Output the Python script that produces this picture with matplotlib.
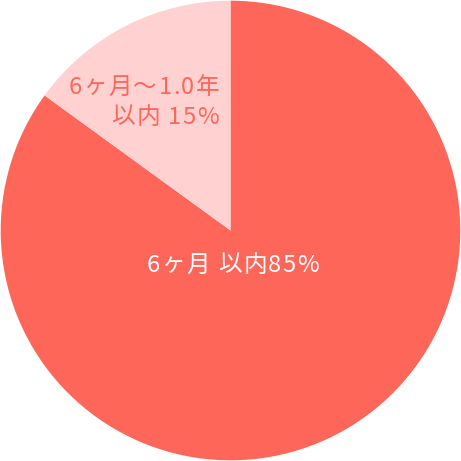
import matplotlib.pyplot as plt
from matplotlib.transforms import IdentityTransform

labels = ['6ヶ月 以内85%', '6ヶ月～1.0年', '以内 15%']
values = [85, 15]
colors = ['#FF665A', '#FFD1D1']
text_colors = ['white', '#FF665A', '#FF665A']

plt.rcParams['font.family'] = ['Noto Sans CJK JP', 'DejaVu Sans']

fig = plt.figure(figsize=(4.61, 4.61), dpi=100)
ax = fig.add_axes([0, 0, 1, 1])
wedges, _ = ax.pie(values, colors=colors, startangle=90, counterclock=False,
                   radius=1.0, wedgeprops={'linewidth': 0})
ax.set_xlim(-1.003, 1.003)
ax.set_ylim(-1.003, 1.003)
ax.set_aspect('equal')
ax.axis('off')

renderer = fig.canvas.get_renderer()
H = 461


def spaced_text(s, x, y, ha, color, size=17, track=1.4):
    # draw char by char so the letters get some extra spacing
    widths = []
    for ch in s:
        t = fig.text(0, 0, ch, fontsize=size)
        widths.append(t.get_window_extent(renderer).width)
        t.remove()
    total = sum(widths) + track * (len(s) - 1)
    if ha == 'center':
        x0 = x - total / 2
    else:
        x0 = x - total
    for ch, w in zip(s, widths):
        ax.text(x0, H - y, ch, fontsize=size, color=color, ha='left',
                va='center', transform=IdentityTransform())
        x0 += w + track


spaced_text(labels[0], 233, 265, 'center', text_colors[0])
spaced_text(labels[1], 219, 87, 'right', text_colors[1])
spaced_text(labels[2], 219, 117, 'right', text_colors[2])

fig.savefig('out.png', dpi=100)
